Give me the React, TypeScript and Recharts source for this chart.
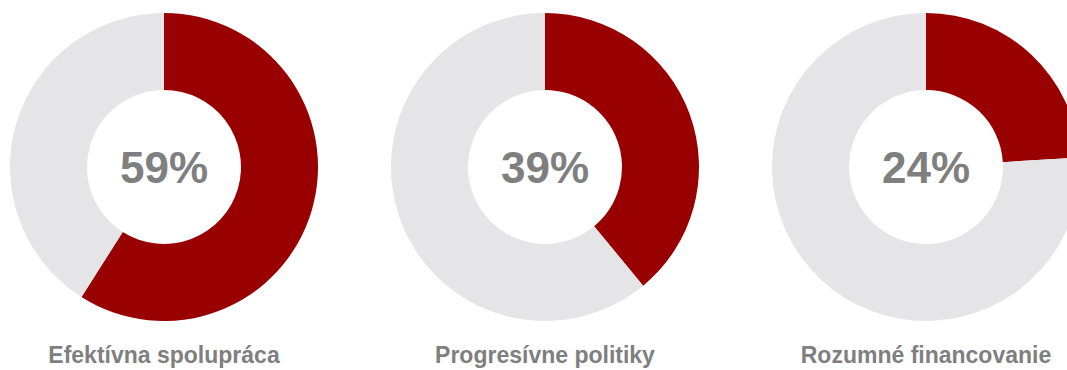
import { PieChart, Pie, Cell, Label } from "recharts";

const titles = ["Efektívna spolupráca", "Progresívne politiky", "Rozumné financovanie"];
const shares = [59, 39, 24];
const centersX = [164, 545, 926];

const RED = "#990000";
const GREY = "#e5e4e6";
const TEXT = "#7f7f7f";
const FONT = "Liberation Sans, Arial, sans-serif";

export default function App() {
  return (
    <div style={{ position: "absolute", left: 0, top: 0, width: 1067, height: 370, background: "#fff", overflow: "hidden" }}>
      {shares.map((share, i) => (
        <div key={titles[i]} style={{ position: "absolute", left: centersX[i] - 160, top: 0 }}>
          <PieChart width={320} height={334} margin={{ top: 0, right: 0, bottom: 0, left: 0 }}>
            <Pie
              data={[
                { name: "yes", value: share },
                { name: "rest", value: 100 - share },
              ]}
              dataKey="value"
              cx="50%"
              cy="50%"
              innerRadius={77}
              outerRadius={154}
              startAngle={90}
              endAngle={-270}
              stroke="none"
              isAnimationActive={false}
            >
              <Cell fill={RED} />
              <Cell fill={GREY} />
              <Label
                position="center"
                value={`${share}%`}
                fill={TEXT}
                fontFamily={FONT}
                fontWeight="bold"
                fontSize={44}
              />
            </Pie>
          </PieChart>
        </div>
      ))}
      {titles.map((t, i) => (
        <div
          key={t}
          style={{
            position: "absolute",
            left: centersX[i] - 150,
            width: 300,
            top: 344,
            textAlign: "center",
            color: TEXT,
            fontFamily: FONT,
            fontWeight: "bold",
            fontSize: 23,
            lineHeight: "23px",
            whiteSpace: "nowrap",
          }}
        >
          {t}
        </div>
      ))}
    </div>
  );
}
